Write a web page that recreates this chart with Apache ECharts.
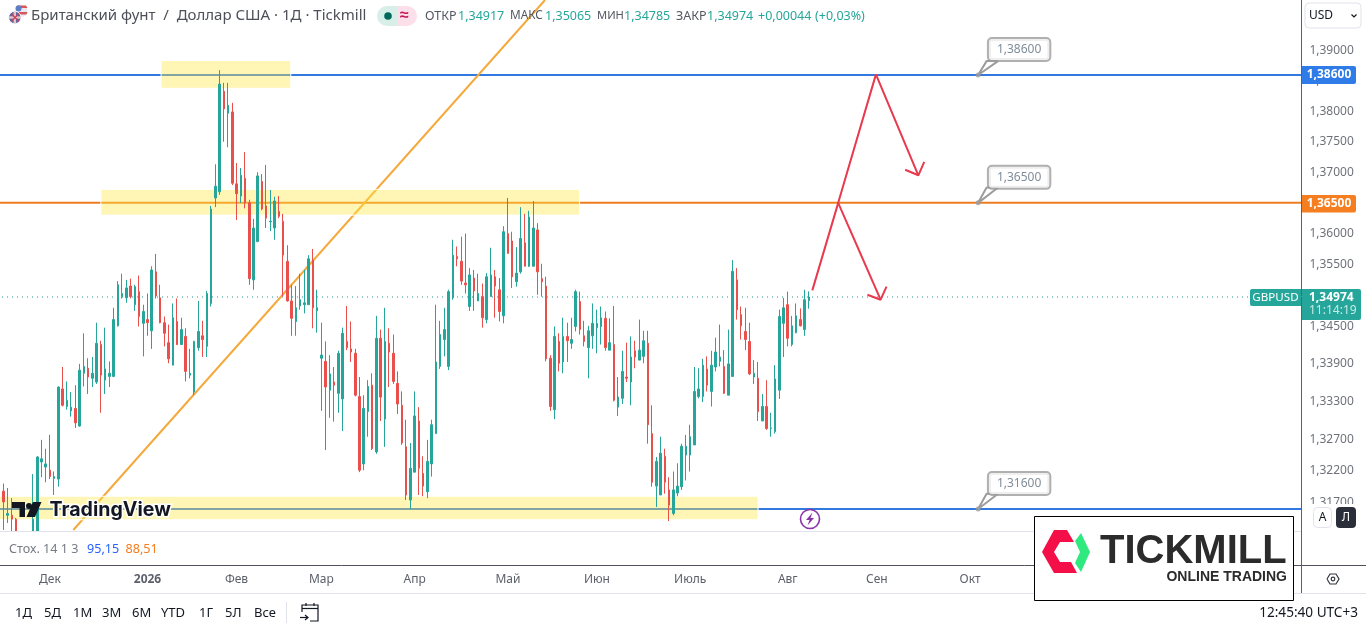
<!DOCTYPE html>
<html><head><meta charset="utf-8"><style>html,body{margin:0;padding:0;background:#fff;overflow:hidden}#c{position:absolute;left:-4px;top:0;width:1370px;height:631px}</style>
<script src="https://cdn.jsdelivr.net/npm/echarts@6/dist/echarts.min.js"></script></head><body><div id="c"></div><script>
const opens=[1.3135,1.3188,1.3150,1.3150,1.3144,null,null,null,1.3111,1.3122,
1.3234,1.3226,1.3221,1.3208,1.3207,1.3350,1.3322,1.3315,1.3319,1.3291,
1.3375,1.3383,1.3367,1.3361,1.3421,1.3364,1.3370,1.3370,1.3451,1.3498,
1.3496,1.3515,1.3485,1.3506,1.3455,1.3461,1.3443,1.3538,1.3496,1.3456,
1.3424,1.3388,1.3458,1.3421,1.3434,1.3372,1.3345,1.3416,1.3435,1.3418,
1.3487,1.3658,1.3668,1.3833,1.3797,1.3799,1.3681,1.3661,1.3690,1.3650,
1.3525,1.3587,1.3685,1.3645,1.3619,1.3609,1.3636,1.3620,1.3555,1.3491,
1.3458,1.3483,1.3485,1.3485,1.3557,1.3475,1.3399,1.3394,1.3348,1.3361,
1.3343,1.3334,1.3426,1.3414,1.3407,1.3338,1.3231,1.3314,1.3356,1.3250,
1.3431,1.3302,1.3423,1.3407,1.3359,1.3324,1.3258,1.3174,1.3218,1.3299,
1.3216,1.3187,1.3231,1.3279,1.3386,1.3429,1.3386,1.3496,1.3563,1.3555,
1.3520,1.3482,1.3528,1.3491,1.3498,1.3461,1.3498,1.3530,1.3509,1.3467,
1.3600,1.3588,1.3522,1.3538,1.3585,1.3547,1.3547,1.3606,1.3527,1.3515,
1.3399,1.3317,1.3426,1.3393,1.3434,1.3423,1.3450,1.3490,1.3435,1.3416,
1.3435,1.3448,1.3450,1.3463,1.3412,1.3421,1.3321,1.3335,1.3369,1.3361,
1.3411,1.3396,1.3402,1.3423,1.3279,1.3196,1.3182,1.3243,1.3190,1.3153,
1.3185,1.3195,1.3245,1.3245,1.3261,1.3338,1.3338,1.3382,1.3346,1.3385,
1.3394,1.3386,1.3340,1.3370,1.3525,1.3469,1.3442,1.3426,1.3369,1.3367,
1.3299,1.3322,1.3287,1.3282,1.3348,1.3455,1.3485,1.3421,1.3440,1.3461,
1.3445,1.34917];
const closes=[1.3174,1.3171,1.3153,1.3144,1.3119,null,null,null,1.3144,1.3242,
1.3239,1.3231,1.3211,1.3211,1.3353,1.3324,1.3332,1.3321,1.3296,1.3380,
1.3386,1.3369,1.3375,1.3423,1.3372,1.3382,1.3375,1.3461,1.3517,1.3503,
1.3512,1.3498,1.3514,1.3466,1.3474,1.3456,1.3541,1.3499,1.3456,1.3439,
1.3398,1.3464,1.3421,1.3445,1.3378,1.3375,1.3426,1.3442,1.3429,1.3503,
1.3640,1.3677,1.3845,1.3804,1.3810,1.3682,1.3665,1.3695,1.3650,1.3527,
1.3609,1.3694,1.3640,1.3625,1.3620,1.3653,1.3628,1.3565,1.3491,1.3463,
1.3480,1.3493,1.3488,1.3559,1.3480,1.3480,1.3404,1.3353,1.3374,1.3356,
1.3407,1.3439,1.3416,1.3409,1.3340,1.3221,1.3319,1.3354,1.3255,1.3431,
1.3337,1.3426,1.3409,1.3362,1.3326,1.3264,1.3182,1.3224,1.3307,1.3224,
1.3196,1.3235,1.3293,1.3393,1.3437,1.3445,1.3506,1.3565,1.3559,1.3523,
1.3517,1.3533,1.3507,1.3503,1.3464,1.3530,1.3533,1.3515,1.3474,1.3603,
1.3568,1.3530,1.3536,1.3592,1.3547,1.3627,1.3609,1.3538,1.3522,1.3398,
1.3322,1.3434,1.3391,1.3434,1.3427,1.3429,1.3506,1.3445,1.3426,1.3443,
1.3455,1.3455,1.3464,1.3416,1.3424,1.3332,1.3337,1.3378,1.3367,1.3401,
1.3401,1.3412,1.3427,1.3293,1.3202,1.3235,1.3248,1.3202,1.3166,1.3190,
1.3196,1.3259,1.3259,1.3274,1.3346,1.3350,1.3388,1.3356,1.3388,1.3409,
1.3401,1.3343,1.3390,1.3539,1.3477,1.3451,1.3429,1.3374,1.3375,1.3314,
1.3322,1.3287,1.3288,1.3366,1.3466,1.3480,1.3431,1.3451,1.3467,1.3451,
1.3493,1.34974];
const highs=[1.3190,1.3200,1.3193,1.3177,1.3146,null,null,null,1.3215,1.3243,
1.3269,1.3255,1.3277,1.3219,1.3354,1.3385,1.3362,1.3345,1.3356,1.3390,
1.3439,1.3399,1.3401,1.3456,1.3427,1.3448,1.3394,1.3480,1.3523,1.3535,
1.3525,1.3527,1.3517,1.3532,1.3485,1.3503,1.3547,1.3567,1.3517,1.3466,
1.3453,1.3487,1.3495,1.3464,1.3447,1.3414,1.3427,1.3491,1.3459,1.3507,
1.3645,1.3713,1.3868,1.3847,1.3847,1.3814,1.3715,1.3707,1.3733,1.3655,
1.3624,1.3700,1.3697,1.3712,1.3671,1.3660,1.3661,1.3632,1.3581,1.3517,
1.3515,1.3535,1.3541,1.3565,1.3575,1.3509,1.3456,1.3426,1.3404,1.3385,
1.3411,1.3448,1.3483,1.3458,1.3414,1.3369,1.3340,1.3364,1.3375,1.3467,
1.3445,1.3480,1.3447,1.3437,1.3378,1.3346,1.3301,1.3264,1.3346,1.3321,
1.3243,1.3269,1.3301,1.3485,1.3459,1.3480,1.3509,1.3590,1.3579,1.3595,
1.3600,1.3544,1.3541,1.3535,1.3519,1.3536,1.3577,1.3541,1.3528,1.3612,
1.3658,1.3603,1.3578,1.3643,1.3632,1.3637,1.3653,1.3617,1.3551,1.3530,
1.3404,1.3450,1.3439,1.3464,1.3456,1.3464,1.3509,1.3506,1.3459,1.3451,
1.3487,1.3477,1.3482,1.3474,1.3463,1.3483,1.3369,1.3411,1.3424,1.3434,
1.3427,1.3461,1.3443,1.3443,1.3324,1.3242,1.3274,1.3255,1.3210,1.3219,
1.3232,1.3263,1.3277,1.3293,1.3385,1.3383,1.3398,1.3402,1.3411,1.3432,
1.3453,1.3412,1.3445,1.3557,1.3544,1.3482,1.3480,1.3456,1.3396,1.3393,
1.3342,1.3364,1.3312,1.3388,1.3477,1.3496,1.3506,1.3467,1.3487,1.3479,
1.3509,1.35065];
const lows=[1.3119,1.3127,1.3138,1.3125,1.3115,null,null,null,1.3105,1.3119,
1.3210,1.3202,1.3207,1.3182,1.3195,1.3322,1.3317,1.3306,1.3288,1.3290,
1.3354,1.3342,1.3353,1.3358,1.3312,1.3342,1.3353,1.3369,1.3450,1.3495,
1.3488,1.3495,1.3475,1.3450,1.3402,1.3435,1.3414,1.3495,1.3455,1.3418,
1.3391,1.3388,1.3420,1.3420,1.3362,1.3367,1.3340,1.3411,1.3401,1.3401,
1.3482,1.3643,1.3663,1.3750,1.3741,1.3679,1.3622,1.3650,1.3641,1.3517,
1.3509,1.3586,1.3638,1.3609,1.3604,1.3590,1.3625,1.3498,1.3490,1.3435,
1.3435,1.3477,1.3471,1.3485,1.3447,1.3440,1.3315,1.3253,1.3304,1.3298,
1.3312,1.3283,1.3412,1.3393,1.3338,1.3218,1.3221,1.3274,1.3253,1.3247,
1.3299,1.3258,1.3353,1.3358,1.3310,1.3261,1.3174,1.3160,1.3218,1.3182,
1.3180,1.3177,1.3211,1.3279,1.3382,1.3402,1.3380,1.3493,1.3547,1.3517,
1.3503,1.3475,1.3475,1.3491,1.3448,1.3455,1.3498,1.3464,1.3458,1.3455,
1.3567,1.3512,1.3514,1.3535,1.3547,1.3546,1.3547,1.3501,1.3498,1.3394,
1.3315,1.3302,1.3378,1.3375,1.3393,1.3414,1.3442,1.3437,1.3418,1.3367,
1.3414,1.3407,1.3421,1.3411,1.3412,1.3330,1.3307,1.3326,1.3361,1.3324,
1.3383,1.3396,1.3391,1.3263,1.3195,1.3163,1.3182,1.3184,1.3141,1.3150,
1.3180,1.3190,1.3205,1.3219,1.3261,1.3335,1.3329,1.3346,1.3322,1.3378,
1.3386,1.3342,1.3340,1.3370,1.3461,1.3429,1.3412,1.3372,1.3358,1.3299,
1.3299,1.3285,1.3274,1.3279,1.3334,1.3401,1.3418,1.3418,1.3439,1.3450,
1.3435,1.34785];
const priceTicks=[1.39,1.385,1.38,1.375,1.37,1.365,1.36,1.355,1.35,1.345,1.339,1.333,1.327,1.322,1.317];
const tickDates=['2025-12-01','2026-01-02','2026-02-02','2026-03-02','2026-04-01','2026-05-01','2026-06-01','2026-07-01','2026-08-03','2026-09-01','2026-10-01'];
const tickLabels=['Дек','2026','Фев','Мар','Апр','Май','Июн','Июль','Авг','Сен','Окт'];
const levelBlue=1.386, levelOrange=1.365, levelLow=1.316, lastPrice=1.34974;
const zones=[[38.2,68.8,1.3884,1.3838],[24,136.9,1.3672,1.3630],[-1,179,1.3180,1.3143]];
const trendLine=[[17.5,1.3127],[128.75,1.39847]];
const arrowPath=[[191.8,1.3508],[197.9,1.3650],[206.8,1.3861],[216.8,1.3695]];
const arrowHeadA=[[213.7,1.3704],[216.8,1.3695],[218.2,1.3717]];
const arrowPathB=[[197.9,1.3650],[207.9,1.3493]];
const arrowHeadB=[[204.8,1.3501],[207.9,1.3493],[209.3,1.3514]];
const calloutPrices=[1.386,1.365,1.316];
const calloutTops=[1.3883,1.3675,1.3184];
const calloutBar=230.9, calloutTailBars=[232.9,235.6];

// trading-day categories: weekdays from 13 Nov 2025, no candle on 1 Jan
const categories=[];
for(let d=new Date(Date.UTC(2025,10,13));categories.length<308;d=new Date(d.getTime()+864e5)){
  const s=d.toISOString().slice(0,10);
  if(d.getUTCDay()%6!==0&&s!=='2026-01-01')categories.push(s);
}
const candleData=opens.map((o,i)=>o===null?[NaN,NaN,NaN,NaN]:[o,closes[i],lows[i],highs[i]]);
const FONT='"Noto Sans",sans-serif';
const fmt=v=>v.toFixed(5).replace('.',',');
const red='#e8394d', teal='#26a69a', dn='#e9504c';
const tx=(x,y,text,o={})=>({type:'text',z:o.z||100,x,y,style:Object.assign({text,font:(o.w||'normal')+' '+(o.s||12)+'px '+(o.f||FONT),fill:o.c||'#4a4d57',textVerticalAlign:'middle',textAlign:o.a||'left'},o.st||{})});
const rc=(x,y,w,h,fill,o={})=>({type:'rect',z:o.z||99,shape:{x,y,width:w,height:h,r:o.r||0},style:{fill,stroke:o.stroke||null,lineWidth:o.lw||0}});
const ln=(x1,y1,x2,y2,c,o={})=>({type:'line',z:o.z||98,shape:{x1,y1,x2,y2},style:{stroke:c,lineWidth:o.lw||1}});
const pg=(pts,fill,o={})=>({type:'polygon',z:o.z||101,shape:{points:pts},style:{fill}});
const pl=(pts,c,lw,z)=>({type:'polyline',z:z||101,shape:{points:pts},style:{stroke:c,lineWidth:lw,fill:null}});
const ci=(cx,cy,r,fill,o={})=>({type:'circle',z:o.z||101,shape:{cx,cy,r},style:{fill,stroke:o.stroke||null,lineWidth:o.lw||0}});
const graphics=[
 rc(1302,0,70,593,'#fff',{z:5}),
 rc(-6,532,1307,33,'#fff',{z:5}),
 rc(-6,566,1378,65,'#fff',{z:5}),
 ln(1301.5,0,1301.5,593,'#5d6068',{z:7}),
 ln(0,531.5,1301,531.5,'#e0e3eb',{z:7}),
 ln(0,565.5,1366,565.5,'#50535e',{z:7}),
 ln(0,593.5,1366,593.5,'#e0e3eb',{z:7}),
 // header
 ci(21.5,11,6,'#e8e8ee',{z:100}),
 pg([[17,5.5],[26,5.5],[27.5,8],[16,8]],'#d9545e'),pg([[16,12],[27.5,12],[26.5,14.5],[17,14.5]],'#d9545e'),
 ci(18.5,8.5,3,'#5b7fc4'),
 ci(14.8,17.5,6.2,'#5a6aa8',{stroke:'#fff',lw:1}),
 ln(9,17.5,21,17.5,'#e8c4c8',{z:102,lw:2.4}),ln(14.8,11.5,14.8,23.5,'#e8c4c8',{z:102,lw:2.4}),
 ln(11,13.5,19,21.5,'#c8445a',{z:102,lw:1.2}),ln(19,13.5,11,21.5,'#c8445a',{z:102,lw:1.2}),
 tx(31,16,'Британский фунт  /  Доллар США · 1Д · Tickmill',{s:15,c:'#4e5059'}),
 rc(377,6,20,20,'#d8efe9',{r:[10,0,0,10]}),rc(397,6,20,20,'#fcdfe8',{r:[0,10,10,0]}),
 ci(388,16,3.8,'#00695c'),tx(400,15.5,'≈',{s:16,c:'#c2185b',w:'bold'}),
 tx(425,16,'ОТКР',{c:'#555861',s:12.5}),tx(458,16,'1,34917',{c:teal,s:12.5}),
 tx(510,16,'МАКС',{c:'#555861',s:11.8}),tx(545,16,'1,35065',{c:teal,s:12.5}),
 tx(597,16,'МИН',{c:'#555861',s:11.2}),tx(624,16,'1,34785',{c:teal,s:12.5}),
 tx(676,16,'ЗАКР',{c:'#555861',s:12.5}),tx(707,16,'1,34974',{c:teal,s:12.5}),
 tx(758,16,'+0,00044',{c:teal,s:12.5}),tx(815,16,'(+0,03%)',{c:teal,s:12.5}),
 // right pane widgets
 rc(1305,3,56,25,'#fff',{stroke:'#e0e3eb',lw:1,r:4}),tx(1309,16,'USD',{c:'#131722',s:12}),
 pl([[1351.5,14.5],[1354,17],[1356.5,14.5]],'#131722',1.2),
 rc(1302,66,54,18,'#2f7ce9',{r:[0,2,2,0]}),tx(1329,75,fmt(levelBlue),{a:'center',c:'#fff',w:'bold'}),
 rc(1302,195,54,17.5,'#f57f20',{r:[0,2,2,0]}),tx(1329,203.5,fmt(levelOrange),{a:'center',c:'#fff',w:'bold'}),
 rc(1250,289,51,17,'#26a69a',{r:[2,0,0,2]}),tx(1275.5,297.5,'GBPUSD',{a:'center',c:'#fff',s:11.6}),
 rc(1302,289,59,31,'#26a69a',{r:[0,2,2,0]}),tx(1309,297.5,fmt(lastPrice),{c:'#fff',w:'bold'}),tx(1309,311,'11:14:19',{c:'#c6ece7'}),
 rc(1302,504,70,28,'#fff',{z:50}),
 rc(1313.5,507.5,18,20,'#fff',{stroke:'#e0e3eb',lw:1,r:4}),tx(1322.5,517.5,'А',{a:'center',c:'#131722'}),
 rc(1336,507,20,21,'#2a2e39',{r:4}),tx(1346,517.5,'Л',{a:'center',c:'#fff'}),
 pl([[1327,579],[1330,574],[1336,574],[1339,579],[1336,584],[1330,584],[1327,579]],'#33353d',1.2),
 ({type:'circle',z:101,shape:{cx:1333,cy:579,r:1.8},style:{fill:null,stroke:'#33353d',lineWidth:1.2}}),
 // stochastic legend
 tx(9,549,'Стох. 14 1 3',{c:'#787b86',s:12.6}),tx(87,549,'95,15',{c:'#2962ff',s:12.6}),tx(125.5,549,'88,51',{c:'#f57c1f',s:12.6}),
 // bolt marker
 ci(810,519,9.5,'#fff',{stroke:'#8a34a8',lw:1.6,z:60}),
 pg([[812.5,512.5],[806,520],[809.5,520],[807.5,525.5],[814,518],[810.5,518]],'#8a34a8'),
 // range bar
 tx(15,613,'1Д',{s:13,c:'#131722'}),tx(44,613,'5Д',{s:13,c:'#131722'}),tx(73,613,'1М',{s:13,c:'#131722'}),
 tx(102,613,'3М',{s:13,c:'#131722'}),tx(132,613,'6М',{s:13,c:'#131722'}),tx(161,613,'YTD',{s:13,c:'#131722'}),
 tx(199,613,'1Г',{s:13,c:'#131722'}),tx(225,613,'5Л',{s:13,c:'#131722'}),tx(254,613,'Все',{s:13,c:'#131722'}),
 ln(286.5,602,286.5,623,'#e0e3eb'),
 pl([[302,612],[302,605],[318,605],[318,621],[310,621]],'#131722',1.2),ln(302,608.5,318,608.5,'#131722',{z:101,lw:1.2}),
 ln(306,603,306,606,'#131722',{z:101,lw:1.2}),ln(314,603,314,606,'#131722',{z:101,lw:1.2}),
 pl([[300,617.5],[308,617.5]],'#131722',1.2),pl([[305,615],[308,617.5],[305,620]],'#131722',1.2),
 tx(1358,613,'12:45:40 UTC+3',{a:'right',s:13.6,c:'#131722'}),
 // TradingView mark
 pg([[12,502],[25,502],[25,517],[19.5,517],[19.5,508],[12,508]],'#131722',{z:81}),ci(29,506,3,'#131722',{z:81}),
 pg([[33,502],[41.5,502],[35,517],[26.5,517]],'#131722',{z:81}),
 tx(49.5,510,'TradingView',{s:19.6,w:'bold',c:'#131722',z:81,f:'Inter,sans-serif',st:{stroke:'#fff',lineWidth:3}}),
 // Tickmill badge
 rc(1034.5,516.5,259,84,'#fff',{stroke:'#000',lw:1,z:110}),
 pg([[1054,530],[1067,530],[1074,542],[1060,542],[1054,552],[1060,562],[1071,562],[1077,573],[1054,573],[1042,552]],'#f50f48',{z:111}),
 pg([[1081,533],[1090,552],[1081,572],[1075,563],[1080,552],[1075,541]],'#2fe97f',{z:111}),
 tx(1100,551.5,'TICKMILL',{s:40,w:'bold',c:'#2b2b2b',z:111,f:'"Liberation Sans",sans-serif'}),
 tx(1287,577,'ONLINE TRADING',{s:14,w:'bold',c:'#2b2b2b',z:111,a:'right',f:'"Liberation Sans",sans-serif'})
];
const lineS=(data,color,w,z,extra)=>Object.assign({type:'line',xAxisIndex:1,yAxisIndex:0,data,symbol:'none',silent:true,z,lineStyle:{color,width:w}},extra||{});
const span=p=>[[-0.5,p],[307.5,p]];
const option={
 animation:false,backgroundColor:'#fff',
 grid:{left:0.98,top:0,width:1305.92,height:531,containLabel:false},
 xAxis:[
  {type:'category',data:categories,boundaryGap:true,axisLine:{show:false},axisTick:{show:false},splitLine:{show:false},z:6,
   axisLabel:{margin:43,interval:(i,v)=>tickDates.includes(v),fontFamily:FONT,fontSize:12,color:'#5d606b',
    formatter:v=>{const k=tickDates.indexOf(v);return k<0?'':(tickLabels[k]==='2026'?'{y|2026}':tickLabels[k]);},
    rich:{y:{fontFamily:FONT,fontSize:12,fontWeight:'bold',color:'#5d606b'}}}},
  {type:'value',min:-0.5,max:307.5,show:false}
 ],
 yAxis:[{type:'log',logBase:10,min:1.31254,max:1.39847,show:false,splitLine:{show:false}}],
 series:[
  lineS(span(levelBlue),'#3179e0',2,1),
  lineS(span(levelOrange),'#ee7d20',2,1),
  lineS(span(levelLow),'#3179e0',2,1),
  lineS(span(lastPrice),'#1f9488',1.2,1,{lineStyle:{color:'#1f9488',width:1.2,type:[1,4]}}),
  lineS(trendLine,'#f5a93a',2,1),
  lineS([[0,lastPrice],[1,lastPrice]],'#000',0,2,{lineStyle:{width:0,opacity:0},
   markArea:{silent:true,animation:false,z:2,itemStyle:{color:'rgba(255,232,70,0.4)',borderColor:'#fff',borderWidth:1},
    data:zones.map(z=>[{xAxis:z[0],yAxis:z[2]},{xAxis:z[1],yAxis:z[3]}])}}),
  {type:'candlestick',xAxisIndex:0,yAxisIndex:0,data:candleData,barWidth:2,z:3,silent:true,
   itemStyle:{color:teal,color0:dn,borderColor:teal,borderColor0:dn,borderWidth:1}},
  lineS(arrowPath,red,2,4),lineS(arrowHeadA,red,2,4),lineS(arrowPathB,red,2,4),lineS(arrowHeadB,red,2,4),
  ...calloutPrices.map((p,i)=>lineS([[calloutBar,p],[calloutTailBars[0],calloutTops[i]],[calloutTailBars[1],calloutTops[i]],[calloutBar,p]],'#9c9c9c',2,4)),
  {type:'scatter',xAxisIndex:1,yAxisIndex:0,z:4,silent:true,clip:false,symbol:'circle',symbolSize:5,itemStyle:{color:'#9c9c9c'},
   data:calloutPrices.map(p=>[calloutBar,p]),
   label:{show:true,position:'inside',offset:[41,-25.5],formatter:o=>fmt(o.value[1]),fontFamily:FONT,fontSize:12,color:'#5f6f80',
    backgroundColor:'#fff',borderColor:'#9c9c9c',borderWidth:2,borderRadius:3,padding:[4,8,4,8],lineHeight:13}},
  {type:'scatter',xAxisIndex:1,yAxisIndex:0,z:6,silent:true,clip:false,symbol:'circle',symbolSize:1,itemStyle:{color:'rgba(0,0,0,0)'},
   data:priceTicks.map(p=>[307.5,p]),
   label:{show:true,position:'right',distance:6,formatter:o=>fmt(o.value[1]),fontFamily:FONT,fontSize:12,color:'#4a4d57'}}
 ],
 graphic:{elements:[{type:'group',x:4,y:0,children:graphics}]}
};
echarts.init(document.getElementById('c'),null,{renderer:'canvas'}).setOption(option);
</script></body></html>
